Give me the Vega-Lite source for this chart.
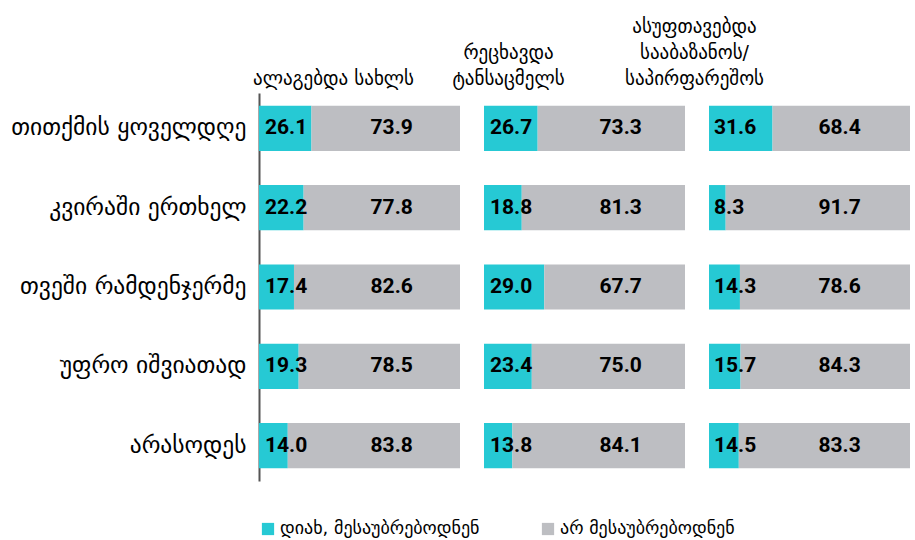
{
  "$schema": "https://vega.github.io/schema/vega-lite/v6.json",
  "padding": {"left": 10, "top": 18, "right": 0, "bottom": 5},
  "background": "white",
  "bounds": "flush",
  "config": {
    "view": {"stroke": null},
    "concat": {"spacing": 24},
    "title": {"font": "DejaVu Sans", "fontSize": 19, "fontWeight": "normal", "color": "#000", "baseline": "bottom", "lineHeight": 26, "offset": 4},
    "legend": {"orient": "bottom", "direction": "horizontal", "title": null, "labelFont": "DejaVu Sans", "labelFontSize": 18, "labelColor": "#000", "symbolType": "square", "symbolSize": 150, "symbolStrokeWidth": 0, "labelOffset": 3, "columnPadding": 59, "offset": 39, "labelLimit": 400}
  },
  "datasets": {
    "d": [
      {"panel": "p1", "freq": "თითქმის ყოველდღე", "resp": "დიახ, მესაუბრებოდნენ", "k": 0, "value": 26.1},
      {"panel": "p1", "freq": "თითქმის ყოველდღე", "resp": "არ მესაუბრებოდნენ", "k": 1, "value": 73.9},
      {"panel": "p1", "freq": "კვირაში ერთხელ", "resp": "დიახ, მესაუბრებოდნენ", "k": 0, "value": 22.2},
      {"panel": "p1", "freq": "კვირაში ერთხელ", "resp": "არ მესაუბრებოდნენ", "k": 1, "value": 77.8},
      {"panel": "p1", "freq": "თვეში რამდენჯერმე", "resp": "დიახ, მესაუბრებოდნენ", "k": 0, "value": 17.4},
      {"panel": "p1", "freq": "თვეში რამდენჯერმე", "resp": "არ მესაუბრებოდნენ", "k": 1, "value": 82.6},
      {"panel": "p1", "freq": "უფრო იშვიათად", "resp": "დიახ, მესაუბრებოდნენ", "k": 0, "value": 19.3},
      {"panel": "p1", "freq": "უფრო იშვიათად", "resp": "არ მესაუბრებოდნენ", "k": 1, "value": 78.5},
      {"panel": "p1", "freq": "არასოდეს", "resp": "დიახ, მესაუბრებოდნენ", "k": 0, "value": 14.0},
      {"panel": "p1", "freq": "არასოდეს", "resp": "არ მესაუბრებოდნენ", "k": 1, "value": 83.8},
      {"panel": "p2", "freq": "თითქმის ყოველდღე", "resp": "დიახ, მესაუბრებოდნენ", "k": 0, "value": 26.7},
      {"panel": "p2", "freq": "თითქმის ყოველდღე", "resp": "არ მესაუბრებოდნენ", "k": 1, "value": 73.3},
      {"panel": "p2", "freq": "კვირაში ერთხელ", "resp": "დიახ, მესაუბრებოდნენ", "k": 0, "value": 18.8},
      {"panel": "p2", "freq": "კვირაში ერთხელ", "resp": "არ მესაუბრებოდნენ", "k": 1, "value": 81.3},
      {"panel": "p2", "freq": "თვეში რამდენჯერმე", "resp": "დიახ, მესაუბრებოდნენ", "k": 0, "value": 29.0},
      {"panel": "p2", "freq": "თვეში რამდენჯერმე", "resp": "არ მესაუბრებოდნენ", "k": 1, "value": 67.7},
      {"panel": "p2", "freq": "უფრო იშვიათად", "resp": "დიახ, მესაუბრებოდნენ", "k": 0, "value": 23.4},
      {"panel": "p2", "freq": "უფრო იშვიათად", "resp": "არ მესაუბრებოდნენ", "k": 1, "value": 75.0},
      {"panel": "p2", "freq": "არასოდეს", "resp": "დიახ, მესაუბრებოდნენ", "k": 0, "value": 13.8},
      {"panel": "p2", "freq": "არასოდეს", "resp": "არ მესაუბრებოდნენ", "k": 1, "value": 84.1},
      {"panel": "p3", "freq": "თითქმის ყოველდღე", "resp": "დიახ, მესაუბრებოდნენ", "k": 0, "value": 31.6},
      {"panel": "p3", "freq": "თითქმის ყოველდღე", "resp": "არ მესაუბრებოდნენ", "k": 1, "value": 68.4},
      {"panel": "p3", "freq": "კვირაში ერთხელ", "resp": "დიახ, მესაუბრებოდნენ", "k": 0, "value": 8.3},
      {"panel": "p3", "freq": "კვირაში ერთხელ", "resp": "არ მესაუბრებოდნენ", "k": 1, "value": 91.7},
      {"panel": "p3", "freq": "თვეში რამდენჯერმე", "resp": "დიახ, მესაუბრებოდნენ", "k": 0, "value": 14.3},
      {"panel": "p3", "freq": "თვეში რამდენჯერმე", "resp": "არ მესაუბრებოდნენ", "k": 1, "value": 78.6},
      {"panel": "p3", "freq": "უფრო იშვიათად", "resp": "დიახ, მესაუბრებოდნენ", "k": 0, "value": 15.7},
      {"panel": "p3", "freq": "უფრო იშვიათად", "resp": "არ მესაუბრებოდნენ", "k": 1, "value": 84.3},
      {"panel": "p3", "freq": "არასოდეს", "resp": "დიახ, მესაუბრებოდნენ", "k": 0, "value": 14.5},
      {"panel": "p3", "freq": "არასოდეს", "resp": "არ მესაუბრებოდნენ", "k": 1, "value": 83.3}
    ]
  },
  "hconcat": [
    {
      "width": 201, "height": 388,
      "data": {"name": "d"},
      "transform": [{"filter": "datum.panel == 'p1'"}],
      "title": {"text": ["ალაგებდა სახლს"], "anchor": "middle", "dx": -26},
      "encoding": {
        "y": {"field": "freq", "type": "nominal", "sort": ["თითქმის ყოველდღე", "კვირაში ერთხელ", "თვეში რამდენჯერმე", "უფრო იშვიათად", "არასოდეს"],
          "scale": {"paddingInner": 0.43, "paddingOuter": 0.16},
          "axis": {"title": null, "ticks": false, "domain": true, "domainColor": "#555", "domainWidth": 2, "labelFont": "DejaVu Sans", "labelFontSize": 23.5, "labelColor": "#000", "labelPadding": 13, "labelLimit": 400}}
      },
      "layer": [
        {"mark": {"type": "bar"},
          "encoding": {
            "x": {"field": "value", "type": "quantitative", "stack": "normalize", "scale": {"domain": [0, 1], "nice": false}, "axis": null},
            "color": {"field": "resp", "type": "nominal", "scale": {"domain": ["დიახ, მესაუბრებოდნენ", "არ მესაუბრებოდნენ"], "range": ["#26C9D4", "#BDBEC2"]}, "legend": {}},
            "order": {"field": "k", "type": "quantitative"}
          }},
        {"transform": [{"filter": "datum.k == 0"}],
          "mark": {"type": "text", "align": "left", "dx": 6, "font": "Roboto", "fontWeight": "bold", "fontSize": 21, "color": "#000"},
          "encoding": {"x": {"datum": 0, "type": "quantitative"}, "text": {"field": "value", "type": "quantitative", "format": ".1f"}}},
        {"transform": [{"filter": "datum.k == 1"}],
          "mark": {"type": "text", "align": "center", "font": "Roboto", "fontWeight": "bold", "fontSize": 21, "color": "#000"},
          "encoding": {"x": {"datum": 0.66, "type": "quantitative"}, "text": {"field": "value", "type": "quantitative", "format": ".1f"}}}
      ]
    },
    {
      "width": 201, "height": 388,
      "data": {"name": "d"},
      "transform": [{"filter": "datum.panel == 'p2'"}],
      "title": {"text": ["რეცხავდა", "ტანსაცმელს"], "anchor": "middle", "dx": -76},
      "encoding": {
        "y": {"field": "freq", "type": "nominal", "sort": ["თითქმის ყოველდღე", "კვირაში ერთხელ", "თვეში რამდენჯერმე", "უფრო იშვიათად", "არასოდეს"],
          "scale": {"paddingInner": 0.43, "paddingOuter": 0.16}, "axis": null}
      },
      "layer": [
        {"mark": {"type": "bar"},
          "encoding": {
            "x": {"field": "value", "type": "quantitative", "stack": "normalize", "scale": {"domain": [0, 1], "nice": false}, "axis": null},
            "color": {"field": "resp", "type": "nominal", "scale": {"domain": ["დიახ, მესაუბრებოდნენ", "არ მესაუბრებოდნენ"], "range": ["#26C9D4", "#BDBEC2"]}},
            "order": {"field": "k", "type": "quantitative"}
          }},
        {"transform": [{"filter": "datum.k == 0"}],
          "mark": {"type": "text", "align": "left", "dx": 6, "font": "Roboto", "fontWeight": "bold", "fontSize": 21, "color": "#000"},
          "encoding": {"x": {"datum": 0, "type": "quantitative"}, "text": {"field": "value", "type": "quantitative", "format": ".1f"}}},
        {"transform": [{"filter": "datum.k == 1"}],
          "mark": {"type": "text", "align": "center", "font": "Roboto", "fontWeight": "bold", "fontSize": 21, "color": "#000"},
          "encoding": {"x": {"datum": 0.68, "type": "quantitative"}, "text": {"field": "value", "type": "quantitative", "format": ".1f"}}}
      ]
    },
    {
      "width": 201, "height": 388,
      "data": {"name": "d"},
      "transform": [{"filter": "datum.panel == 'p3'"}],
      "title": {"text": ["ასუფთავებდა", "სააბაზანოს/", "საპირფარეშოს"], "anchor": "middle", "dx": -115},
      "encoding": {
        "y": {"field": "freq", "type": "nominal", "sort": ["თითქმის ყოველდღე", "კვირაში ერთხელ", "თვეში რამდენჯერმე", "უფრო იშვიათად", "არასოდეს"],
          "scale": {"paddingInner": 0.43, "paddingOuter": 0.16}, "axis": null}
      },
      "layer": [
        {"mark": {"type": "bar"},
          "encoding": {
            "x": {"field": "value", "type": "quantitative", "stack": "normalize", "scale": {"domain": [0, 1], "nice": false}, "axis": null},
            "color": {"field": "resp", "type": "nominal", "scale": {"domain": ["დიახ, მესაუბრებოდნენ", "არ მესაუბრებოდნენ"], "range": ["#26C9D4", "#BDBEC2"]}},
            "order": {"field": "k", "type": "quantitative"}
          }},
        {"transform": [{"filter": "datum.k == 0"}],
          "mark": {"type": "text", "align": "left", "dx": 5, "font": "Roboto", "fontWeight": "bold", "fontSize": 21, "color": "#000"},
          "encoding": {"x": {"datum": 0, "type": "quantitative"}, "text": {"field": "value", "type": "quantitative", "format": ".1f"}}},
        {"transform": [{"filter": "datum.k == 1"}],
          "mark": {"type": "text", "align": "center", "font": "Roboto", "fontWeight": "bold", "fontSize": 21, "color": "#000"},
          "encoding": {"x": {"datum": 0.65, "type": "quantitative"}, "text": {"field": "value", "type": "quantitative", "format": ".1f"}}}
      ]
    }
  ]
}
